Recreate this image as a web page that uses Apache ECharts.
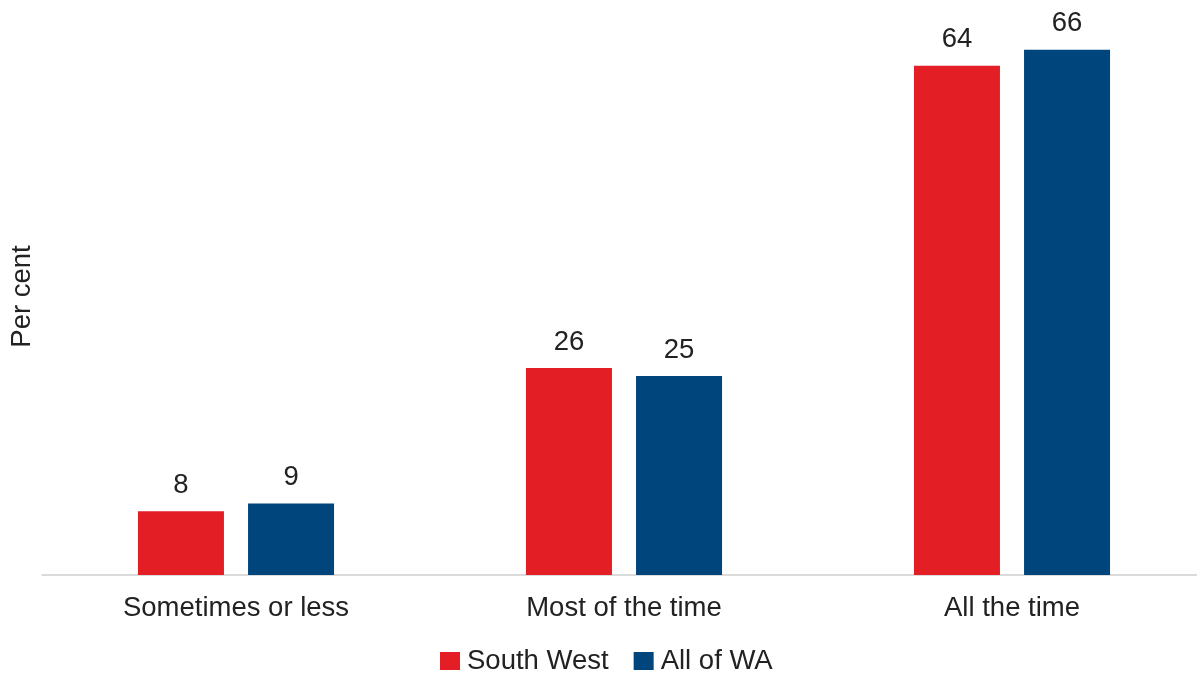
<!DOCTYPE html>
<html>
<head>
<meta charset="utf-8">
<script src="https://cdn.jsdelivr.net/npm/echarts@6/dist/echarts.min.js"></script>
<style>
  html, body { margin: 0; padding: 0; background: #ffffff; }
  #chart { width: 1197px; height: 675px; }
</style>
</head>
<body>
<div id="chart"></div>
<script>
// Frequency categories along the x axis
const categories = ['Sometimes or less', 'Most of the time', 'All the time'];
// Per cent of respondents in each region
const southWest = [8, 26, 64];
const allOfWA = [9, 25, 66];
const seriesNames = ['South West', 'All of WA'];
const colors = ['#E31E25', '#00457C'];

const FONT = '"Liberation Sans", Arial, sans-serif';
const FS = 27.5;
const chart = echarts.init(document.getElementById('chart'), null, { renderer: 'canvas' });

const labelStyle = {
  show: true,
  position: 'top',
  distance: 12,
  color: '#222222',
  fontSize: FS,
  fontFamily: FONT
};

chart.setOption({
  animation: false,
  backgroundColor: '#ffffff',
  textStyle: { fontFamily: FONT },
  grid: {
    left: 42, top: 18, right: -9, bottom: 100,
    containLabel: false,
    outerBoundsMode: 'none'
  },
  legend: {
    bottom: -5,
    left: 435,
    itemWidth: 20,
    itemHeight: 18,
    itemGap: 25,
    icon: 'rect',
    textStyle: { fontSize: FS, color: '#222222', fontFamily: FONT, padding: [0, 0, 0, 2] },
    data: seriesNames
  },
  xAxis: {
    type: 'category',
    data: categories,
    axisLine: { show: true, lineStyle: { color: '#d0d0d0', width: 1.5 } },
    axisTick: { show: false },
    axisLabel: { color: '#222222', fontSize: FS, fontFamily: FONT, margin: 19 }
  },
  yAxis: {
    type: 'value',
    min: 0,
    max: 70,
    name: 'Per cent',
    nameLocation: 'middle',
    nameGap: 6,
    nameRotate: 90,
    nameTextStyle: { color: '#222222', fontSize: FS, fontFamily: FONT },
    axisLine: { show: false },
    axisTick: { show: false },
    axisLabel: { show: false },
    splitLine: { show: false }
  },
  series: [
    {
      name: seriesNames[0],
      type: 'bar',
      data: southWest,
      barWidth: 86,
      barGap: '28%',
      itemStyle: { color: colors[0] },
      label: labelStyle
    },
    {
      name: seriesNames[1],
      type: 'bar',
      data: allOfWA,
      barWidth: 86,
      itemStyle: { color: colors[1] },
      label: labelStyle
    }
  ]
});
</script>
</body>
</html>
